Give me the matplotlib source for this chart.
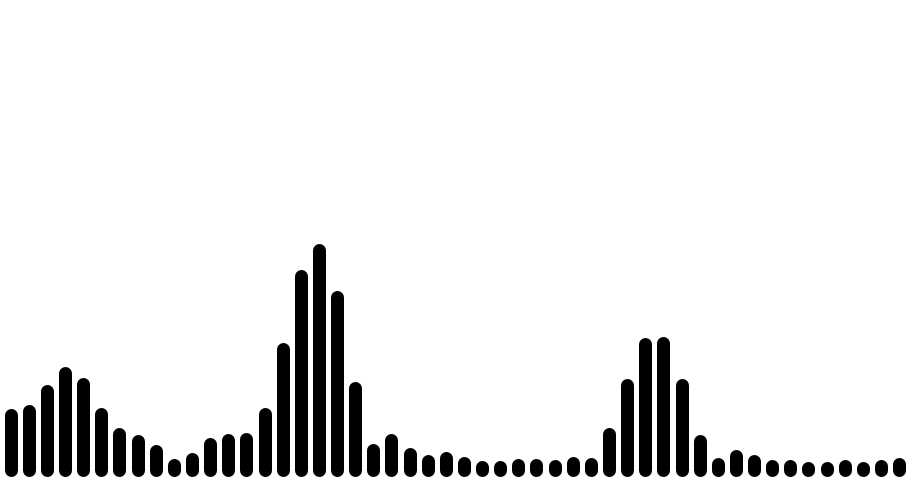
import matplotlib
matplotlib.use("Agg")
import matplotlib.pyplot as plt
import numpy as np

# bar heights (roughly in pixels)
heights = [68, 72, 92, 110, 99, 69, 49, 42, 32, 18,
           24, 39, 43, 44, 69, 134, 207, 233, 186, 95,
           33, 43, 29, 22, 25, 20, 16, 16, 18, 18,
           17, 20, 19, 49, 98, 139, 140, 98, 42, 19,
           27, 22, 17, 17, 15, 15, 17, 15, 17, 19]
positions = np.arange(len(heights))

bar_px = 13          # bar thickness in pixels
r = bar_px / 2       # round cap radius

fig = plt.figure(figsize=(9.1, 4.8), dpi=100)
ax = fig.add_axes([0, 0, 1, 1])

h = np.array(heights, dtype=float)
# round caps stick out by r at both ends, so shorten the segment
ax.vlines(positions, r, np.maximum(h - r, r + 0.5), colors="black",
          linewidth=bar_px * 72 / 100, capstyle="round")

ax.set_xlim(-0.59, 49.6)
ax.set_ylim(-4, 476)
ax.axis("off")

fig.savefig("out.png", dpi=100, facecolor="white")
